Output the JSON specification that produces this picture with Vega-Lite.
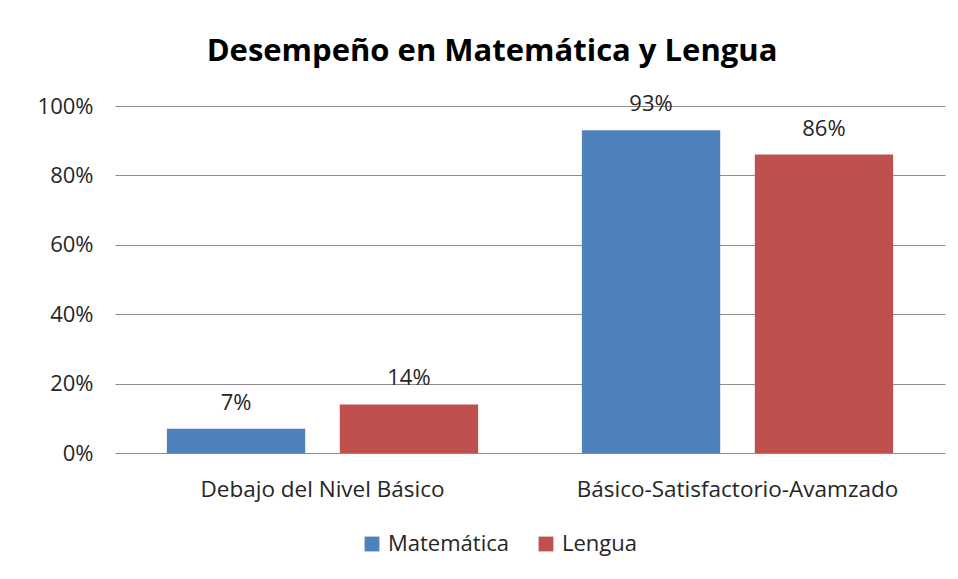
{
  "$schema": "https://vega.github.io/schema/vega-lite/v6.json",
  "autosize": "none",
  "width": 830,
  "height": 347,
  "padding": {"left": 115, "top": 106, "right": 13, "bottom": 126},
  "background": "white",
  "title": {
    "text": "Desempeño en Matemática y Lengua",
    "font": "Open Sans",
    "fontSize": 31,
    "fontWeight": "bold",
    "color": "#000000",
    "anchor": "middle",
    "dx": -38,
    "offset": 25
  },
  "data": {
    "values": [
      {"nivel": "Debajo del Nivel Básico", "materia": "Matemática", "valor": 0.07},
      {"nivel": "Debajo del Nivel Básico", "materia": "Lengua", "valor": 0.14},
      {"nivel": "Básico-Satisfactorio-Avamzado", "materia": "Matemática", "valor": 0.93},
      {"nivel": "Básico-Satisfactorio-Avamzado", "materia": "Lengua", "valor": 0.86}
    ]
  },
  "encoding": {
    "x": {
      "field": "nivel", "type": "nominal", "sort": null,
      "scale": {"paddingInner": 0, "paddingOuter": 0},
      "axis": {"title": null, "labelAngle": 0, "domain": false, "ticks": false, "labelPadding": 25,
               "labelLimit": 0, "labelFont": "Open Sans", "labelFontSize": 22.5, "labelColor": "#262626"}
    },
    "xOffset": {"field": "materia", "sort": ["Matemática", "Lengua"],
                "scale": {"paddingInner": 0.2, "paddingOuter": 0.3}},
    "y": {
      "field": "valor", "type": "quantitative",
      "scale": {"domain": [0, 1]},
      "axis": {"title": null, "format": ".0%", "values": [0, 0.2, 0.4, 0.6, 0.8, 1],
               "labelOverlap": false, "domain": false, "ticks": false, "labelPadding": 22,
               "labelFont": "Open Sans", "labelFontSize": 22, "labelColor": "#262626",
               "gridColor": "#8c8c8c", "gridWidth": 1}
    }
  },
  "layer": [
    {
      "mark": {"type": "bar", "stroke": null},
      "encoding": {
        "color": {
          "field": "materia", "type": "nominal", "sort": ["Matemática", "Lengua"],
          "scale": {"domain": ["Matemática", "Lengua"], "range": ["#4f81bd", "#c0504d"]},
          "legend": {
            "title": null, "orient": "none", "direction": "horizontal",
            "legendX": 246, "legendY": 427,
            "symbolType": "square", "symbolSize": 220, "symbolStrokeWidth": 0,
            "labelFont": "Open Sans", "labelFontSize": 22, "labelColor": "#262626",
            "columnPadding": 26, "labelOffset": 5, "labelLimit": 0
          }
        }
      }
    },
    {
      "mark": {"type": "text", "baseline": "alphabetic", "dy": -19, "font": "Open Sans", "fontSize": 22, "color": "#262626"},
      "encoding": {
        "text": {"field": "valor", "type": "quantitative", "format": ".0%"}
      }
    }
  ],
  "config": {"view": {"stroke": null}}
}
